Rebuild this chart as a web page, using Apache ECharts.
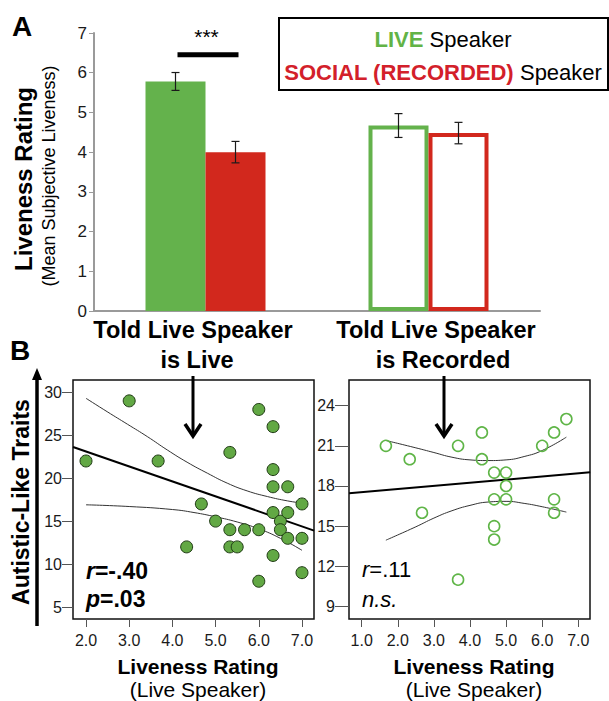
<!DOCTYPE html>
<html><head><meta charset="utf-8">
<script src="https://cdn.jsdelivr.net/npm/echarts@6/dist/echarts.min.js"></script>
<style>html,body{margin:0;padding:0;background:#fff}#c{width:609px;height:701px}</style>
</head><body><div id="c"></div>
<script>
// ---------- Panel A data ----------
const groups = ['Told Live Speaker\nis Live', 'Told Live Speaker\nis Recorded'];
const liveMeans = [5.78, 4.67];
const liveErr = [0.225, 0.30];
const socialMeans = [4.00, 4.48];
const socialErr = [0.27, 0.27];
const ratingTicks = [0, 1, 2, 3, 4, 5, 6, 7];
const sigLevel = [[0, 6.45]];
const sigText = '***';
const legendLive = ['LIVE', 'Speaker'];
const legendSocial = ['SOCIAL (RECORDED)', 'Speaker'];

// ---------- Panel B left (told live) ----------
const liveX = [2.0, 3.0, 3.67, 4.33, 4.67, 5.0, 5.33, 5.33, 5.33, 5.5, 5.67, 6.0, 6.0, 6.0, 6.33, 6.33, 6.33, 6.33, 6.33, 6.5, 6.5, 6.67, 6.67, 6.67, 7.0, 7.0, 7.0];
const liveY = [22, 29, 22, 12, 17, 15, 23, 14, 12, 12, 14, 28, 14, 8, 26, 21, 19, 16, 11, 15, 14, 19, 16, 13, 17, 13, 9];
const liveFitX = [1.70, 7.28];
const liveFitY = [23.63, 13.90];
const liveUpX = [2.0, 2.49, 2.96, 3.42, 3.88, 4.34, 4.81, 5.27, 5.73, 6.20, 6.66, 7.0];
const liveUpY = [29.3, 27.74, 26.28, 24.84, 23.29, 21.86, 20.58, 19.42, 18.52, 17.86, 17.36, 17.1];
const liveLoX = [2.0, 3.0, 4.0, 4.5, 5.0, 5.5, 6.0, 6.5, 7.0];
const liveLoY = [16.9, 16.7, 16.35, 16.0, 15.5, 14.9, 14.1, 13.0, 11.6];
const liveXTicks = [2, 3, 4, 5, 6, 7];
const liveYTicks = [5, 10, 15, 20, 25, 30];
const liveStats = ['r', '=-.40', 'p', '=.03'];

// ---------- Panel B right (told recorded) ----------
const recX = [1.67, 2.33, 2.67, 3.67, 3.67, 4.33, 4.33, 4.67, 4.67, 4.67, 4.67, 5.0, 5.0, 5.0, 6.0, 6.33, 6.33, 6.33, 6.67];
const recY = [21, 20, 16, 21, 11, 22, 20, 19, 17, 15, 14, 19, 18, 17, 21, 22, 17, 16, 23];
const recFitX = [0.65, 7.33];
const recFitY = [17.45, 19.03];
const recBandX = [1.67, 2.5, 3.0, 3.5, 4.0, 4.5, 5.0, 5.5, 6.0, 6.67];
const recUpY = [21.4, 20.85, 20.5, 20.15, 19.95, 19.9, 19.95, 20.2, 20.65, 21.65];
const recLoY = [13.95, 14.95, 15.6, 16.15, 16.55, 16.8, 16.85, 16.7, 16.45, 16.05];
const recXTicks = [1, 2, 3, 4, 5, 6, 7];
const recYTicks = [9, 12, 15, 18, 21, 24];
const recStats = ['r', '=.11', 'n.s.'];

// ---------- styling ----------
const FONT = '"Liberation Sans", Arial, Helvetica, sans-serif';
const GREEN = '#64b24c';
const RED = '#d2281d';
const LGREEN = '#62b346';
const LRED = '#d3202a';
const BARW = 60;

const zip = (a, b) => a.map((v, i) => [v, b[i]]);

function barData(means, color) {
  return means.map((m, i) => i === 0
    ? { value: m, itemStyle: { color: color, borderColor: color, borderWidth: 0 } }
    : { value: m, itemStyle: { color: '#ffffff', borderColor: color, borderWidth: 4 } });
}
function errData(means, errs) {
  return means.map((m, i) => [i, m + errs[i], m - errs[i]]);
}
function errRenderer(dx) {
  return function (params, api) {
    const x = api.coord([api.value(0), 0])[0] + dx;
    const hi = api.coord([api.value(0), api.value(1)])[1];
    const lo = api.coord([api.value(0), api.value(2)])[1];
    const st = { stroke: '#1a1a1a', lineWidth: 1.2 };
    return { type: 'group', children: [
      { type: 'line', shape: { x1: x, y1: hi, x2: x, y2: lo }, style: st },
      { type: 'line', shape: { x1: x - 4, y1: hi, x2: x + 4, y2: hi }, style: st },
      { type: 'line', shape: { x1: x - 4, y1: lo, x2: x + 4, y2: lo }, style: st }
    ]};
  };
}

const scatterAxisX = (grid, min, max, ticks) => ({
  type: 'value', gridIndex: grid, min: min, max: max,
  axisLine: { show: false },
  axisTick: { show: true, length: 8, lineStyle: { color: '#555', width: 1 }, customValues: ticks },
  axisLabel: { customValues: ticks, formatter: v => v.toFixed(1), fontSize: 16, color: '#1a1a1a', margin: 13, fontFamily: FONT },
  splitLine: { show: false }
});
const scatterAxisY = (grid, min, max, ticks, len) => ({
  type: 'value', gridIndex: grid, min: min, max: max,
  axisLine: { show: false },
  axisTick: { show: true, length: len, lineStyle: { color: '#555', width: 1 }, customValues: ticks },
  axisLabel: { customValues: ticks, fontSize: 16, color: '#1a1a1a', margin: len, fontFamily: FONT },
  splitLine: { show: false }
});
const thin = { color: '#333', width: 1 };

const catFont = { fontSize: 23.5, fontWeight: 'bold', color: '#000', fontFamily: FONT, lineHeight: 30 };
const catRich = {
  t0: Object.assign({ padding: [0, 25, 0, 0] }, catFont),
  s0: Object.assign({ padding: [0, 17, 0, 0] }, catFont),
  t1: Object.assign({ padding: [0, 0, 0, 15] }, catFont),
  s1: Object.assign({ padding: [0, 0, 0, 29] }, catFont)
};

const chart = echarts.init(document.getElementById('c'), null, { renderer: 'svg' });
chart.setOption({
  animation: false,
  backgroundColor: '#fff',
  textStyle: { fontFamily: FONT },
  grid: [
    { left: 94, top: 33, width: 446, height: 278 },
    { left: 73, top: 380, width: 241, height: 239, show: true, borderColor: '#111', borderWidth: 1.5, backgroundColor: 'transparent' },
    { left: 349, top: 380, width: 241, height: 239, show: true, borderColor: '#111', borderWidth: 1.5, backgroundColor: 'transparent' }
  ],
  xAxis: [
    { type: 'category', gridIndex: 0, data: groups,
      axisLine: { lineStyle: { color: '#9a9a9a', width: 2 } },
      axisTick: { show: false },
      axisLabel: { interval: 0, fontSize: 23.5, fontWeight: 'bold', color: '#000', lineHeight: 30, margin: 4, fontFamily: FONT,
        formatter: function (v, i) { const l = v.split('\n'); return '{t' + i + '|' + l[0] + '}\n{s' + i + '|' + l[1] + '}'; },
        rich: catRich } },
    scatterAxisX(1, 1.699, 7.278, liveXTicks),
    scatterAxisX(2, 0.648, 7.325, recXTicks)
  ],
  yAxis: [
    { type: 'value', gridIndex: 0, min: 0, max: 7, interval: 1,
      axisLine: { show: true, lineStyle: { color: '#9a9a9a', width: 2 } },
      axisTick: { show: true, length: 5, lineStyle: { color: '#9a9a9a' } },
      axisLabel: { fontSize: 17, color: '#1a1a1a', margin: 7, fontFamily: FONT, customValues: ratingTicks },
      splitLine: { show: false } },
    scatterAxisY(1, 3.605, 31.43, liveYTicks, 11),
    scatterAxisY(2, 8.06, 25.92, recYTicks, 14)
  ],
  series: [
    { type: 'bar', name: 'LIVE', xAxisIndex: 0, yAxisIndex: 0, barWidth: BARW, barGap: '0%',
      data: barData(liveMeans, GREEN) },
    { type: 'bar', name: 'SOCIAL (RECORDED)', xAxisIndex: 0, yAxisIndex: 0, barWidth: BARW, barGap: '0%',
      data: barData(socialMeans, RED) },
    { type: 'custom', xAxisIndex: 0, yAxisIndex: 0, renderItem: errRenderer(-BARW / 2),
      data: errData(liveMeans, liveErr), encode: { x: 0, y: [1, 2] }, z: 5 },
    { type: 'custom', xAxisIndex: 0, yAxisIndex: 0, renderItem: errRenderer(BARW / 2),
      data: errData(socialMeans, socialErr), encode: { x: 0, y: [1, 2] }, z: 5 },
    { type: 'custom', xAxisIndex: 0, yAxisIndex: 0, data: sigLevel, encode: { x: 0, y: 1 }, z: 5,
      renderItem: function (params, api) {
        const p = api.coord([api.value(0), api.value(1)]);
        return { type: 'group', children: [
          { type: 'rect', shape: { x: p[0] - 28, y: p[1] - 2.5, width: 61, height: 5 }, style: { fill: '#000' } },
          { type: 'text', style: { text: sigText, x: p[0] + 1, y: p[1] - 18, align: 'center', verticalAlign: 'middle', font: '21px ' + FONT, fill: '#000' } }
        ]};
      } },
    // left scatter
    { type: 'line', xAxisIndex: 1, yAxisIndex: 1, data: zip(liveUpX, liveUpY), smooth: true, showSymbol: false, lineStyle: thin, z: 2 },
    { type: 'line', xAxisIndex: 1, yAxisIndex: 1, data: zip(liveLoX, liveLoY), smooth: true, showSymbol: false, lineStyle: thin, z: 2 },
    { type: 'line', xAxisIndex: 1, yAxisIndex: 1, data: zip(liveFitX, liveFitY), showSymbol: false, lineStyle: { color: '#000', width: 2 }, z: 2 },
    { type: 'scatter', xAxisIndex: 1, yAxisIndex: 1, data: zip(liveX, liveY), symbolSize: 12,
      itemStyle: { color: '#62a844', borderColor: '#1f3a14', borderWidth: 1, opacity: 1 }, z: 3 },
    // right scatter
    { type: 'line', xAxisIndex: 2, yAxisIndex: 2, data: zip(recBandX, recUpY), smooth: true, showSymbol: false, lineStyle: thin, z: 2 },
    { type: 'line', xAxisIndex: 2, yAxisIndex: 2, data: zip(recBandX, recLoY), smooth: true, showSymbol: false, lineStyle: thin, z: 2 },
    { type: 'line', xAxisIndex: 2, yAxisIndex: 2, data: zip(recFitX, recFitY), showSymbol: false, lineStyle: { color: '#000', width: 2 }, z: 2 },
    { type: 'scatter', xAxisIndex: 2, yAxisIndex: 2, data: zip(recX, recY), symbolSize: 11,
      itemStyle: { color: 'rgba(255,255,255,0)', borderColor: '#5fb547', borderWidth: 1.6, opacity: 1 }, z: 3 }
  ],
  graphic: [
    { type: 'text', x: 22, y: 26, style: { text: 'A', font: 'bold 28px ' + FONT, fill: '#000', align: 'center', verticalAlign: 'middle' } },
    { type: 'text', x: 20, y: 350, style: { text: 'B', font: 'bold 28px ' + FONT, fill: '#000', align: 'center', verticalAlign: 'middle' } },
    { type: 'rect', shape: { x: 279, y: 18, width: 329, height: 72 }, style: { fill: 'none', stroke: '#000', lineWidth: 2 } },
    { type: 'text', x: 443, y: 39, style: {
        text: '{g|' + legendLive[0] + '} {k|' + legendLive[1] + '}', align: 'center', verticalAlign: 'middle',
        rich: { g: { fontSize: 22, fontWeight: 'bold', fill: LGREEN, fontFamily: FONT }, k: { fontSize: 22, fill: '#000', fontFamily: FONT } },
        font: '22px ' + FONT } },
    { type: 'text', x: 443, y: 72, style: {
        text: '{r|' + legendSocial[0] + '} {k|' + legendSocial[1] + '}', align: 'center', verticalAlign: 'middle',
        rich: { r: { fontSize: 22, fontWeight: 'bold', fill: LRED, fontFamily: FONT }, k: { fontSize: 22, fill: '#000', fontFamily: FONT } },
        font: '22px ' + FONT } },
    { type: 'text', x: 23, y: 179, rotation: Math.PI / 2, style: { text: 'Liveness Rating', font: 'bold 24px ' + FONT, fill: '#000', align: 'center', verticalAlign: 'middle' } },
    { type: 'text', x: 49, y: 176, rotation: Math.PI / 2, style: { text: '(Mean Subjective Liveness)', font: '18px ' + FONT, fill: '#000', align: 'center', verticalAlign: 'middle' } },
    { type: 'text', x: 21, y: 502, rotation: Math.PI / 2, style: { text: 'Autistic-Like Traits', font: 'bold 23px ' + FONT, fill: '#000', align: 'center', verticalAlign: 'middle' } },
    // vertical arrow beside "Autistic-Like Traits"
    { type: 'line', shape: { x1: 37, y1: 626, x2: 37, y2: 378 }, style: { stroke: '#000', lineWidth: 3.5 } },
    { type: 'polygon', shape: { points: [[37, 368], [32, 380], [42, 380]] }, style: { fill: '#000' } },
    // arrows pointing into the panels
    { type: 'line', shape: { x1: 193, y1: 376, x2: 193, y2: 436 }, style: { stroke: '#000', lineWidth: 3 }, z: 10 },
    { type: 'polyline', shape: { points: [[185, 424], [193, 436], [201, 424]] }, style: { stroke: '#000', lineWidth: 3.5, fill: 'none' }, z: 10 },
    { type: 'line', shape: { x1: 444, y1: 376, x2: 444, y2: 436 }, style: { stroke: '#000', lineWidth: 3 }, z: 10 },
    { type: 'polyline', shape: { points: [[436, 424], [444, 436], [452, 424]] }, style: { stroke: '#000', lineWidth: 3.5, fill: 'none' }, z: 10 },
    // stats
    { type: 'text', x: 86, y: 571, style: { text: '{i|' + liveStats[0] + '}{b|' + liveStats[1] + '}', verticalAlign: 'middle',
        rich: { i: { fontSize: 23, fontWeight: 'bold', fontStyle: 'italic', fontFamily: FONT }, b: { fontSize: 23, fontWeight: 'bold', fontFamily: FONT } } } },
    { type: 'text', x: 86, y: 599, style: { text: '{i|' + liveStats[2] + '}{b|' + liveStats[3] + '}', verticalAlign: 'middle',
        rich: { i: { fontSize: 23, fontWeight: 'bold', fontStyle: 'italic', fontFamily: FONT }, b: { fontSize: 23, fontWeight: 'bold', fontFamily: FONT } } } },
    { type: 'text', x: 362, y: 569, style: { text: '{i|' + recStats[0] + '}{b|' + recStats[1] + '}', verticalAlign: 'middle',
        rich: { i: { fontSize: 22, fontStyle: 'italic', fontFamily: FONT }, b: { fontSize: 22, fontFamily: FONT } } } },
    { type: 'text', x: 362, y: 599, style: { text: recStats[2], font: 'italic 22px ' + FONT, fill: '#000', verticalAlign: 'middle' } },
    // x-axis titles of scatter panels
    { type: 'text', x: 198, y: 666, style: { text: 'Liveness Rating', font: 'bold 21px ' + FONT, fill: '#000', align: 'center', verticalAlign: 'middle' } },
    { type: 'text', x: 198, y: 689, style: { text: '(Live Speaker)', font: '21px ' + FONT, fill: '#000', align: 'center', verticalAlign: 'middle' } },
    { type: 'text', x: 474, y: 666, style: { text: 'Liveness Rating', font: 'bold 21px ' + FONT, fill: '#000', align: 'center', verticalAlign: 'middle' } },
    { type: 'text', x: 474, y: 689, style: { text: '(Live Speaker)', font: '21px ' + FONT, fill: '#000', align: 'center', verticalAlign: 'middle' } }
  ]
});
</script></body></html>
